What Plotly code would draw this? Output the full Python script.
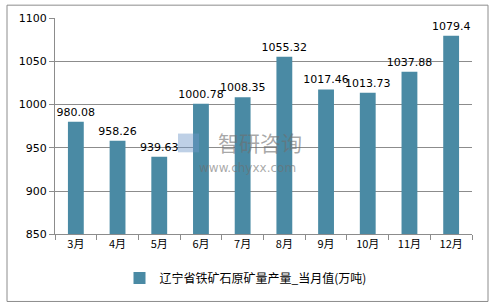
import plotly.graph_objects as go

months = ["3月", "4月", "5月", "6月", "7月", "8月", "9月", "10月", "11月", "12月"]
values = [980.08, 958.26, 939.63, 1000.78, 1008.35, 1055.32, 1017.46, 1013.73, 1037.88, 1079.4]
labels = ["980.08", "958.26", "939.63", "1000.78", "1008.35", "1055.32", "1017.46", "1013.73", "1037.88", "1079.4"]
series_name = "辽宁省铁矿石原矿量产量_当月值(万吨)"
y_ticks = [850, 900, 950, 1000, 1050, 1100]

font_family = "DejaVu Sans, Noto Sans CJK SC, sans-serif"

# plot area in pixels: x 55..472, y 16..235
PW, PH = 417, 219


def px_x(x):
    return (x - 55) / PW


def px_y(y):
    return (235 - y) / PH


fig = go.Figure()
fig.add_trace(go.Bar(
    x=months, y=values, name=series_name,
    text=labels, textposition="outside", cliponaxis=False, constraintext="none",
    textfont=dict(size=11, color="#000000", family=font_family),
    marker=dict(color="#4A8AA4", line=dict(width=0)),
))

fig.update_layout(
    width=491, height=307,
    margin=dict(l=55, r=19, t=16, b=72),
    paper_bgcolor="white", plot_bgcolor="white",
    bargap=0.62,
    showlegend=True,
    legend=dict(orientation="h", x=0.5, xanchor="center", xref="container",
                y=1 - 278 / 307, yanchor="middle", yref="container",
                font=dict(size=12, family="Noto Sans CJK SC, sans-serif", color="#000"),
                itemwidth=30),
    font=dict(family=font_family, size=11, color="#000"),
    shapes=[
        dict(type="rect", xref="paper", yref="paper",
             x0=px_x(7), x1=px_x(488), y0=px_y(303), y1=px_y(3),
             line=dict(color="#8C8C8C", width=1), layer="below"),
        # watermark logo
        dict(type="rect", xref="paper", yref="paper",
             x0=px_x(178), x1=px_x(199), y0=px_y(152), y1=px_y(133),
             fillcolor="rgba(110,150,200,0.45)", line=dict(width=0), layer="above"),
    ],
)

# watermark (faint)
fig.add_annotation(text="智研咨询", xref="paper", yref="paper",
                   x=px_x(260), y=px_y(142), xanchor="center", yanchor="middle",
                   showarrow=False,
                   font=dict(size=21, color="rgba(110,110,110,0.6)", family="Noto Sans CJK SC"))
fig.add_annotation(text="www.chyxx.com", xref="paper", yref="paper",
                   x=px_x(247), y=px_y(168), xanchor="center", yanchor="middle",
                   showarrow=False,
                   font=dict(size=12, color="rgba(110,110,110,0.6)", family="DejaVu Sans"))

fig.update_yaxes(range=[850, 1100], tickvals=y_ticks, showgrid=True, gridcolor="#8C8C8C",
                 gridwidth=1, showline=True, linecolor="#8C8C8C", ticks="outside",
                 ticklen=5, tickcolor="#8C8C8C", zeroline=False, tickfont=dict(size=11))
fig.update_xaxes(showline=True, linecolor="#8C8C8C", ticks="outside", tickson="boundaries",
                 ticklen=5, tickcolor="#8C8C8C", tickfont=dict(size=11, family="Noto Sans CJK SC"))

fig.write_html("out.html")
